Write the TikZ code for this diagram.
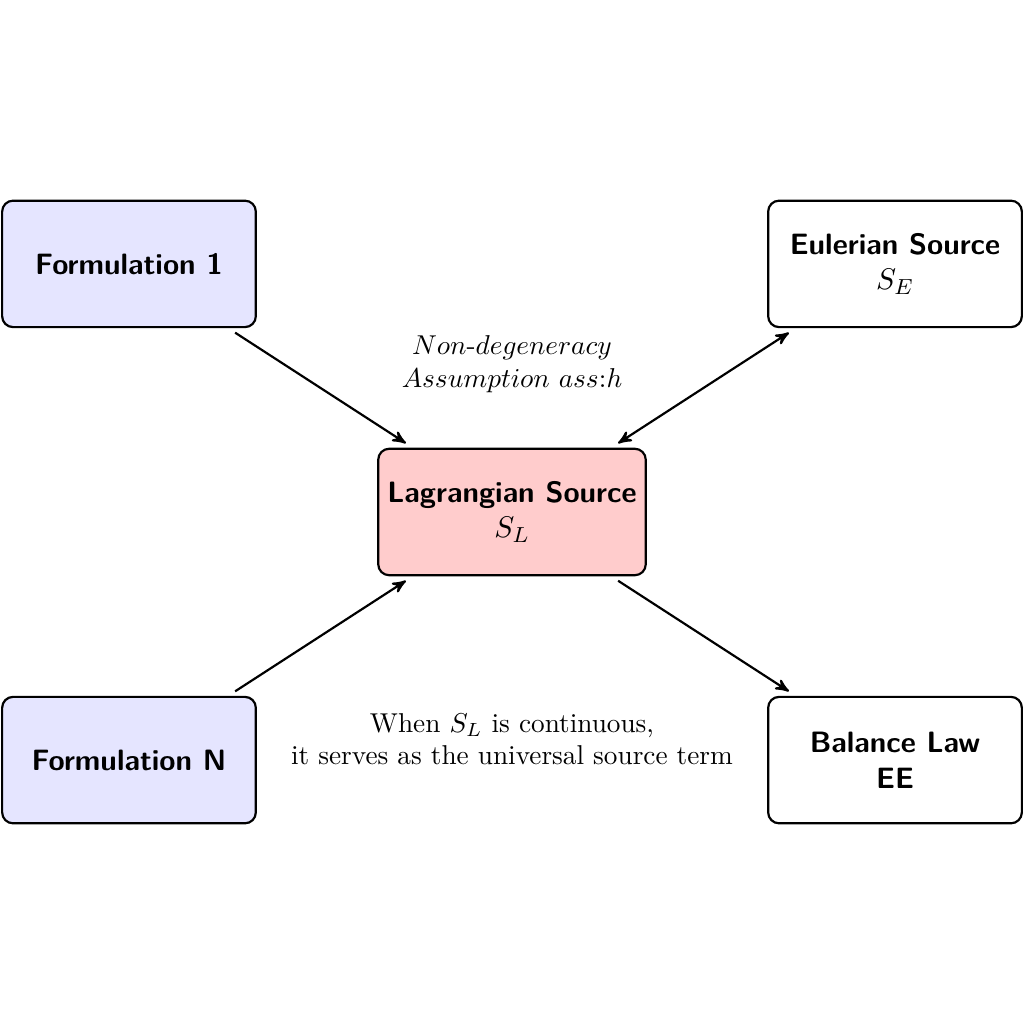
\documentclass[tikz,border=0pt]{standalone}
\usepackage{amsmath}
\usepackage{amssymb}
\usepackage{tikz}
\usetikzlibrary{positioning}
\usetikzlibrary{arrows}
\tikzset{
	srcbox/.style={draw, thick, rounded corners, minimum width=3.27cm, minimum height=1.63cm, align=center, font=\sffamily\bfseries\fontsize{10.8pt}{13pt}\selectfont},
	formbox/.style={srcbox, fill=blue!10},
	lagbox/.style={srcbox, fill=red!20},
	flow/.style={->, >=stealth', thick, shorten >=3pt, shorten <=3pt},
}

\begin{document}
\begin{tikzpicture}
	\useasboundingbox (-6.6,-6.6) rectangle (6.6,6.6);
	\node[lagbox] (lag) at (0,0) {Lagrangian Source\\$S_L$};
	%
	\node[formbox, above left=1.54cm and 1.55cm of lag] (form1) {Formulation 1};
	\node[formbox, below left=1.54cm and 1.55cm of lag] (formN) {Formulation N};
	\node[srcbox, above right=1.54cm and 1.55cm of lag] (euler) {Eulerian Source\\$S_E$};
	\node[srcbox, below right=1.54cm and 1.55cm of lag] (balance) {Balance Law\\EE};
	%
	\draw[flow] (form1) -- (lag);
	\draw[flow] (formN) -- (lag);
	\draw[flow, <->] (lag) -- (euler);
	\draw[flow] (lag) -- (balance);
	%
	\node[align=center] (assum) at (0,1.91) {$Non\text{-}degeneracy$\\$Assumption\ ass{:}h$};
	\node[align=center] (remark) at (0,-2.93) {When $S_L$ is continuous,\\it serves as the universal source term};
\end{tikzpicture}
\end{document}
